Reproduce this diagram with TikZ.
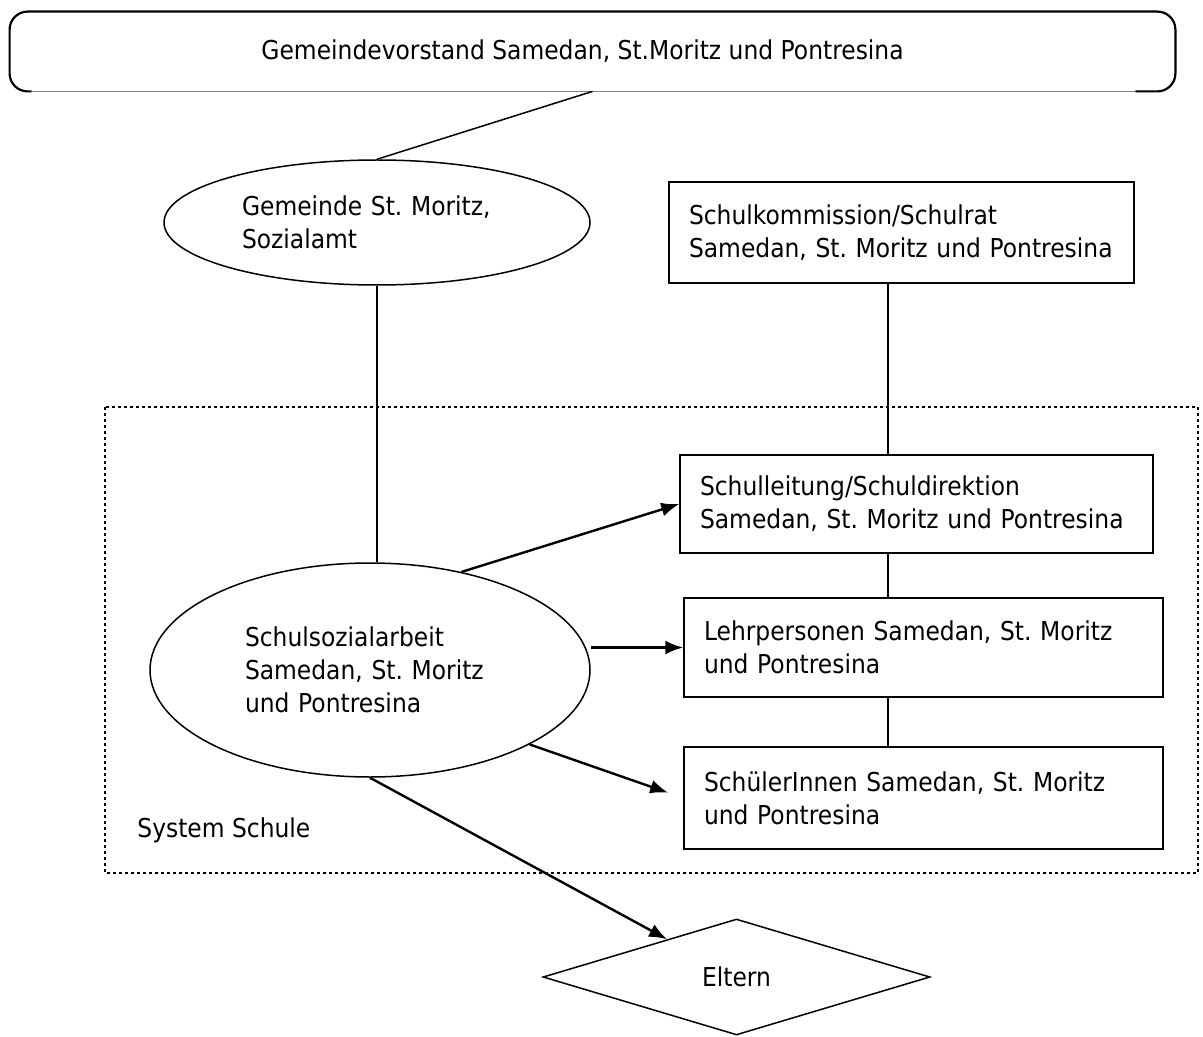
\documentclass[tikz,border=0pt]{standalone}
\usepackage{fontspec}
\setmainfont{DejaVu Sans}[FakeStretch=0.9]
\usetikzlibrary{shapes.geometric,calc,arrows.meta}
\frenchspacing

\tikzset{
  box/.style={draw, line width=0.75pt, rectangle, align=left, inner xsep=10pt, inner ysep=0pt},
  oval/.style={draw, line width=0.75pt, ellipse, align=left, inner sep=0pt},
  link/.style={line width=0.75pt},
  flow/.style={line width=1.2pt, ->, >={Latex[length=9pt,width=7pt]}}
}

\begin{document}
\begin{tikzpicture}[x=0.5pt, y=-0.5pt, font=\fontsize{13}{16.5}\selectfont]

        \useasboundingbox (0,0) rectangle (1203,1037);

        % Gemeindevorstand
        \node[minimum width=582.5pt, minimum height=39.5pt, inner sep=0pt] (gv) at (592.5,51.5) {\hspace*{-10pt}Gemeindevorstand Samedan, St.Moritz und Pontresina};
        \draw[line width=1.1pt, rounded corners=9pt] ($(gv.south west)+(22,0)$) -- (gv.south west) -- (gv.north west) -- (gv.north east) -- (gv.south east) -- ($(gv.south east)+(-40,0)$);
        \draw[gray, line width=0.5pt] ($(gv.south west)+(22,0)$) -- ($(gv.south east)+(-40,0)$);

        % system schule
        \draw[line width=1pt, dash pattern=on 1.4pt off 1.6pt] (105,407) rectangle (1198,873);
        \node[anchor=west, inner sep=0pt] (sys) at (137,830) {System Schule};

        \node[oval, text width=135pt, minimum width=213pt, minimum height=62.5pt] (gem) at (377,222.5) {Gemeinde St. Moritz,\\Sozialamt};
        \node[oval, text width=125pt, minimum width=220pt, minimum height=107pt] (ss) at (370,670) {Schulsozialarbeit\\Samedan, St. Moritz\\und Pontresina};

        \node[box, text width=212.5pt, minimum height=50.5pt] (sk) at (901.5,232.5) {Schulkommission/Schulrat\\Samedan, St. Moritz und Pontresina};
        \node[box, text width=216.5pt, minimum height=49pt] (sl) at (916.5,504) {Schulleitung/Schuldirektion\\Samedan, St. Moritz und Pontresina};
        \node[box, text width=219.5pt, minimum height=49.5pt] (lp) at (923.5,647.5) {Lehrpersonen Samedan, St. Moritz\\und Pontresina};
        \node[box, text width=219.5pt, minimum height=51pt] (sch) at (923.5,798) {SchülerInnen Samedan, St. Moritz\\und Pontresina};

        \node[draw, line width=0.75pt, diamond, minimum width=193.5pt, minimum height=58pt, inner sep=0pt] (el) at (736.5,977) {Eltern};

        \coordinate (vx) at (888,0);

        % lines
        \draw[link] (gv.south) -- (gem.north);
        \draw[link] (gem.south) -- (gem.south |- ss.north);
        \draw[link] (sk.south -| vx) -- (sl.north -| vx);
        \draw[link] (sl.south -| vx) -- (lp.north -| vx);
        \draw[link] (lp.south -| vx) -- (sch.north -| vx);

        % arrows
        \draw[flow] (ss.47) -- (sl.west);
        \draw[flow] (ss.east |- lp.west) -- (lp.west);
        \draw[flow, shorten >=8pt] (ss.-25) -- (sch.west);
        \draw[flow] (ss.south) -- (el);

\end{tikzpicture}
\end{document}
